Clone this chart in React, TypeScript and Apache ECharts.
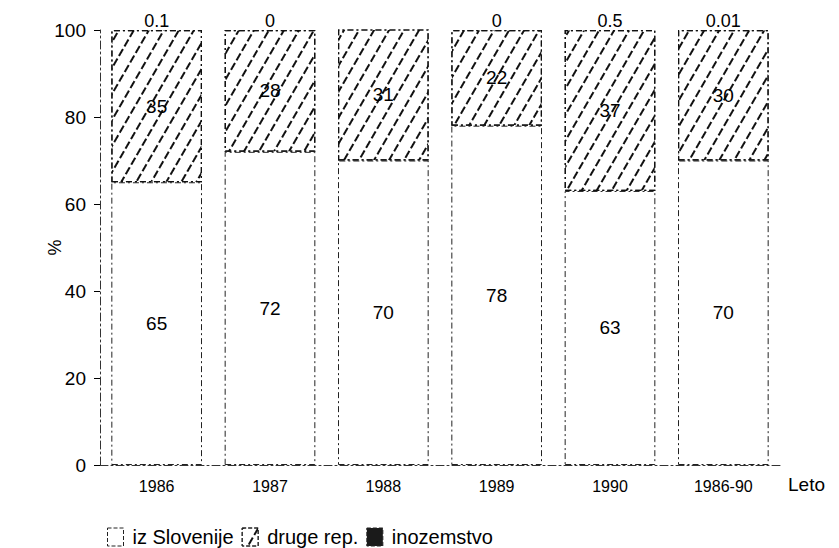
import React, { useEffect, useRef } from "react";
import * as echarts from "echarts";

const categories = ["1986", "1987", "1988", "1989", "1990", "1986-90"];
const izSlovenije = [65, 72, 70, 78, 63, 70];
const drugeRep = [35, 28, 31, 22, 37, 30];
const inozemstvo = [0.1, 0, 0, 0, 0.5, 0.01];
const topLabels = ["0.1", "0", "0", "0", "0.5", "0.01"];
const seriesNames = ["iz Slovenije", "druge rep.", "inozemstvo"];

const FONT = "'Liberation Sans', Arial, sans-serif";

export default function App() {
  const ref = useRef<HTMLDivElement>(null);
  useEffect(() => {
    document.body.style.margin = "0";
    const chart = echarts.init(ref.current!, undefined, { renderer: "svg" });
    const hatch = {
      symbol: "rect",
      symbolSize: 1,
      dashArrayX: [8, 3],
      dashArrayY: [1.3, 10.5],
      rotation: -Math.PI / 3,
      color: "#111",
      backgroundColor: "#fff",
    };
    chart.setOption({
      animation: false,
      backgroundColor: "#fff",
      textStyle: { fontFamily: FONT, color: "#000" },
      grid: { left: 100, right: 59, top: 30, bottom: 83, containLabel: false },
      legend: {
        left: 102,
        top: 522,
        itemWidth: 16,
        itemHeight: 18,
        itemGap: 8,
        icon: "rect",
        itemStyle: { borderColor: "#222", borderWidth: 1, borderType: [4, 2] },
        textStyle: { fontSize: 20, color: "#000", fontFamily: FONT, padding: [0, 0, 0, 4] },
        data: seriesNames,
      },
      xAxis: {
        type: "category",
        data: categories,
        name: "Leto",
        nameLocation: "end",
        nameGap: 8,
        nameTextStyle: { fontSize: 19, color: "#000", verticalAlign: "top", padding: [10, 0, 0, 0] },
        axisLine: { lineStyle: { color: "#333", type: [8, 3, 2, 3], width: 1 } },
        axisTick: { show: false },
        axisLabel: { fontSize: 16, color: "#000", margin: 13 },
      },
      yAxis: {
        type: "value",
        min: 0,
        max: 100,
        interval: 20,
        name: "%",
        nameLocation: "middle",
        nameGap: 36,
        nameMoveOverlap: false,
        nameRotate: 90,
        nameTextStyle: { fontSize: 18, color: "#000" },
        axisLine: { show: true, lineStyle: { color: "#333", type: [8, 3, 2, 3], width: 1 } },
        axisTick: { show: true, length: 6, lineStyle: { color: "#000" } },
        axisLabel: { fontSize: 19, color: "#000", margin: 14 },
        splitLine: { show: false },
      },
      series: [
        {
          name: seriesNames[0],
          type: "bar",
          stack: "total",
          barCategoryGap: "20%",
          data: izSlovenije,
          itemStyle: { color: "#fff", borderColor: "#222", borderWidth: 1, borderType: [6, 3, 2, 3] },
          label: { show: true, position: "inside", fontSize: 19, color: "#000", fontFamily: FONT },
        },
        {
          name: seriesNames[1],
          type: "bar",
          stack: "total",
          data: drugeRep,
          itemStyle: { color: "#fff", borderColor: "#111", borderWidth: 1.2, borderType: [6, 3, 2, 3], decal: hatch },
          label: { show: true, position: "inside", fontSize: 19, color: "#000", fontFamily: FONT },
        },
        {
          name: seriesNames[2],
          type: "bar",
          stack: "total",
          data: inozemstvo,
          itemStyle: { color: "#1a1a1a", borderColor: "#000", borderWidth: 0 },
          label: {
            show: true,
            position: "top",
            distance: 0,
            fontSize: 18,
            color: "#000",
            fontFamily: FONT,
            formatter: (p: any) => topLabels[p.dataIndex],
          },
        },
      ],
    });
    return () => chart.dispose();
  }, []);
  return <div ref={ref} style={{ width: 839, height: 548 }} />;
}
